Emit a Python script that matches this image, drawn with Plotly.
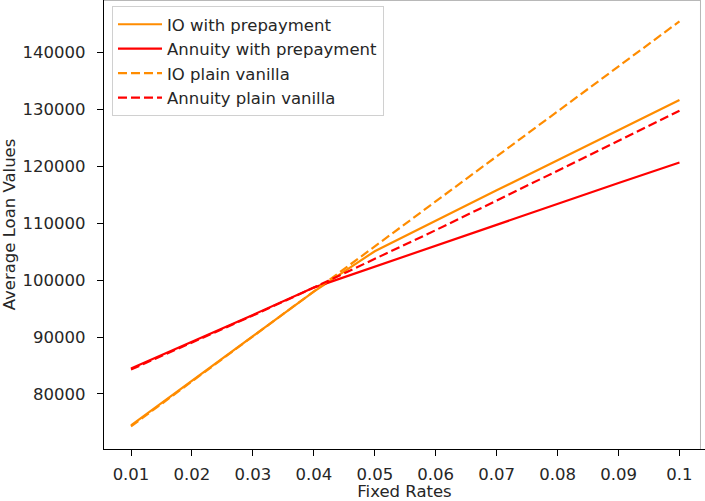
import plotly.graph_objects as go

# Fixed rate grid and average loan values per product
fixed_rates = [0.01, 0.02, 0.03, 0.04, 0.05, 0.06, 0.07, 0.08, 0.09, 0.10]
io_prepay = [74500, 82350, 90200, 98000, 105100, 110500, 115800, 121100, 126400, 131700]
annuity_prepay = [84500, 89150, 93900, 98700, 102400, 106100, 109700, 113400, 117100, 120700]
io_vanilla = [74300, 82200, 90100, 98000, 105900, 113800, 121700, 129600, 137600, 145500]
annuity_vanilla = [84300, 89000, 93800, 98700, 103700, 108800, 114000, 119200, 124500, 129800]

x_tick_vals = [0.01, 0.02, 0.03, 0.04, 0.05, 0.06, 0.07, 0.08, 0.09, 0.1]
x_tick_text = ["0.01", "0.02", "0.03", "0.04", "0.05", "0.06", "0.07", "0.08", "0.09", "0.1"]
y_tick_vals = [80000, 90000, 100000, 110000, 120000, 130000, 140000]

ORANGE = "#ff8c00"
RED = "#ff0000"
DASH = "9px,4px"
FONT = "DejaVu Sans"
FSIZE = 16.5
TEXT = "#262626"

series = [
    ("IO with prepayment", io_prepay, ORANGE, "solid"),
    ("Annuity with prepayment", annuity_prepay, RED, "solid"),
    ("IO plain vanilla", io_vanilla, ORANGE, DASH),
    ("Annuity plain vanilla", annuity_vanilla, RED, DASH),
]

fig = go.Figure()
for i, (name, vals, color, dash) in enumerate(series):
    fig.add_trace(go.Scatter(
        x=fixed_rates, y=vals, mode="lines", name=name,
        legendgroup=f"g{i}",
        line=dict(color=color, width=2.2, dash=dash),
    ))

axis_common = dict(
    showgrid=False, zeroline=False, showline=True, linecolor="black", linewidth=1.2,
    ticks="outside", ticklen=6, tickwidth=1.2, tickcolor="black",
    tickfont=dict(family=FONT, size=FSIZE, color=TEXT),
)

fig.update_xaxes(
    range=[0.005569, 0.10419], tickvals=x_tick_vals, ticktext=x_tick_text,
    ticklabelstandoff=4,
    title=dict(text="Fixed Rates", font=dict(family=FONT, size=FSIZE, color=TEXT), standoff=4),
    **axis_common,
)
fig.update_yaxes(
    range=[70330, 149260], tickvals=y_tick_vals, tickformat="d",
    ticklabelstandoff=8,
    title=dict(text="Average Loan Values", font=dict(family=FONT, size=FSIZE, color=TEXT), standoff=4),
    **axis_common,
)

# light frame along the top and right of the axes
fig.add_shape(type="line", xref="paper", yref="paper", x0=0, x1=0.9925,
              y0=1 - 0.5 / 449, y1=1 - 0.5 / 449, line=dict(color="#b8b8b8", width=1))
fig.add_shape(type="line", xref="paper", yref="paper", x0=0.9925, x1=0.9925,
              y0=0, y1=1, line=dict(color="#b8b8b8", width=1))

fig.update_layout(
    width=705, height=501,
    margin=dict(l=104, r=0, t=0, b=52),
    paper_bgcolor="white", plot_bgcolor="white",
    font=dict(family=FONT, color=TEXT),
    showlegend=True,
    legend=dict(
        x=0.0133, y=1 - 6 / 449, xanchor="left", yanchor="top",
        bgcolor="white", bordercolor="#d0d0d0", borderwidth=1,
        font=dict(family=FONT, size=FSIZE, color=TEXT),
        itemwidth=44, tracegroupgap=0,
    ),
)

fig.write_html("out.html")
